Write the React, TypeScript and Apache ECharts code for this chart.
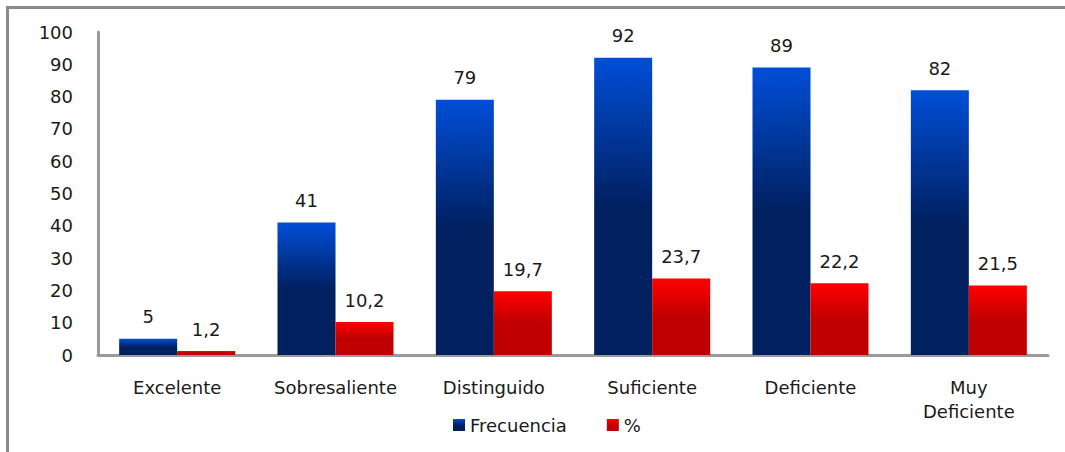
import React, { useEffect, useRef } from "react";
import * as echarts from "echarts";

const categories = ["Excelente", "Sobresaliente", "Distinguido", "Suficiente", "Deficiente", "Muy\nDeficiente"];
const frecuencia = [5, 41, 79, 92, 89, 82];
const porcentaje = [1.2, 10.2, 19.7, 23.7, 22.2, 21.5];
const yTicks = { min: 0, max: 100, interval: 10 };

const FONT = "DejaVu Sans";
const FS = 18;

const blueGrad = () =>
  new echarts.graphic.LinearGradient(0, 0, 0, 1, [
    { offset: 0, color: "#004ed8" },
    { offset: 0.5, color: "#002060" },
    { offset: 1, color: "#002060" },
  ]);
const redGrad = () =>
  new echarts.graphic.LinearGradient(0, 0, 0, 1, [
    { offset: 0, color: "#ff0000" },
    { offset: 0.5, color: "#c00000" },
    { offset: 1, color: "#c00000" },
  ]);

export default function App() {
  const ref = useRef<HTMLDivElement>(null);
  useEffect(() => {
    if (!ref.current) return;
    const chart = echarts.init(ref.current, null, { renderer: "svg" });
    chart.setOption({
      animation: false,
      backgroundColor: "#ffffff",
      textStyle: { fontFamily: FONT },
      graphic: [
        {
          type: "rect",
          shape: { x: 7.5, y: 7.5, width: 1100, height: 500 },
          style: { fill: "none", stroke: "#8a8a8a", lineWidth: 3 },
          silent: true,
        },
      ],
      grid: { left: 98, right: 17, top: 32, bottom: 97 },
      legend: {
        bottom: 13,
        left: 448,
        itemWidth: 12,
        itemHeight: 12,
        itemGap: 40,
        icon: "rect",
        textStyle: { fontFamily: FONT, fontSize: FS, color: "#1a1a1a" },
        data: ["Frecuencia", "%"],
      },
      xAxis: {
        type: "category",
        data: categories,
        axisLine: { show: true, lineStyle: { color: "#9a9a9a", width: 3 } },
        axisTick: { show: false },
        axisLabel: {
          fontFamily: FONT,
          fontSize: FS,
          color: "#1a1a1a",
          margin: 20,
          lineHeight: 24,
          interval: 0,
        },
      },
      yAxis: {
        type: "value",
        min: yTicks.min,
        max: yTicks.max,
        interval: yTicks.interval,
        splitLine: { show: false },
        axisLine: { show: true, lineStyle: { color: "#9a9a9a", width: 3 } },
        axisTick: { show: false },
        axisLabel: { fontFamily: FONT, fontSize: FS, color: "#1a1a1a", margin: 25 },
      },
      series: [
        {
          name: "Frecuencia",
          type: "bar",
          data: frecuencia,
          barWidth: 58,
          barGap: "0%",
          itemStyle: { color: blueGrad() },
          label: {
            show: true,
            position: "top",
            distance: 13,
            fontFamily: FONT,
            fontSize: FS,
            color: "#1a1a1a",
          },
        },
        {
          name: "%",
          type: "bar",
          data: porcentaje,
          barWidth: 58,
          barGap: "0%",
          itemStyle: { color: redGrad() },
          label: {
            show: true,
            position: "top",
            distance: 13,
            fontFamily: FONT,
            fontSize: FS,
            color: "#1a1a1a",
            formatter: (p: any) => String(p.value).replace(".", ","),
          },
        },
      ],
    });
    return () => chart.dispose();
  }, []);
  return (
    <div
      ref={ref}
      style={{ position: "fixed", left: 0, top: 0, width: 1065, height: 452 }}
    />
  );
}
